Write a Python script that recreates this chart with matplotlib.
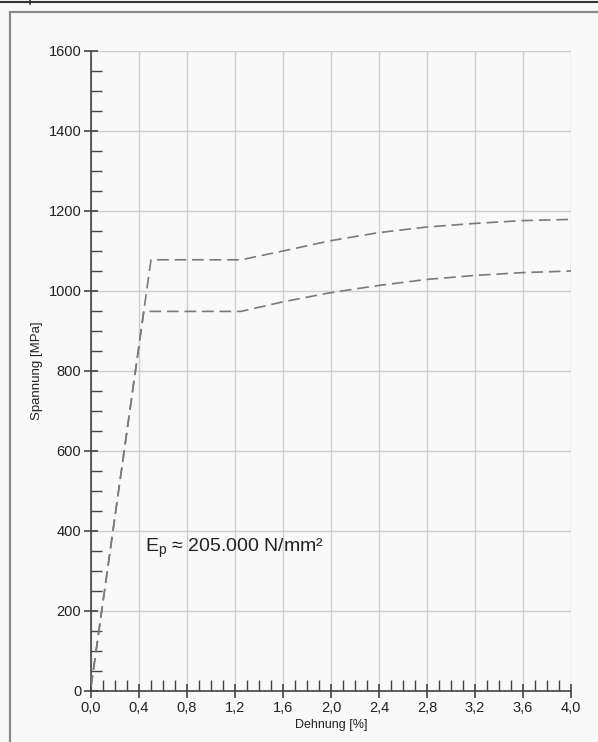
import numpy as np
import matplotlib
matplotlib.use("Agg")
import matplotlib.pyplot as plt
from matplotlib.patches import Rectangle
from matplotlib.lines import Line2D
from matplotlib.ticker import MultipleLocator, FuncFormatter

# ---------------------- Data ----------------------

# upper curve (strain in %, stress in MPa)
upper_strain = [0.0, 0.50, 1.25, 1.6, 2.0, 2.4, 2.8, 3.2, 3.6, 4.0]
upper_stress = [10, 1078, 1078, 1100, 1126, 1146, 1160, 1169, 1176, 1179]

# lower curve
lower_strain = [0.0, 0.44, 1.25, 1.6, 2.0, 2.4, 2.8, 3.2, 3.6, 4.0]
lower_stress = [10, 949, 949, 973, 996, 1014, 1029, 1039, 1046, 1050]

x_ticks = [0.0, 0.4, 0.8, 1.2, 1.6, 2.0, 2.4, 2.8, 3.2, 3.6, 4.0]
y_ticks = [0, 200, 400, 600, 800, 1000, 1200, 1400, 1600]

label_text = "E$_\\mathregular{p}$ ≈ 205.000 N/mm²"

# ---------------------- Plot ----------------------

plt.rcParams['font.family'] = ['Liberation Sans', 'DejaVu Sans']
plt.rcParams['mathtext.fontset'] = 'custom'
plt.rcParams['mathtext.rm'] = 'Liberation Sans'

W, H = 598, 742
fig = plt.figure(figsize=(W / 100, H / 100), dpi=100)
fig.patch.set_facecolor('#f9f9f9')

# bits of the surrounding page: table line on top and the frame
fig.add_artist(Line2D([0, 1], [1 - 1.5 / H, 1 - 1.5 / H], color='#333333', lw=1.5,
                      transform=fig.transFigure))
fig.add_artist(Line2D([30 / W, 30 / W], [1 - 4 / H, 1], color='#333333', lw=1.2,
                      transform=fig.transFigure))
fig.add_artist(Rectangle((9.5 / W, -0.05), 1.0, (H - 11.5) / H + 0.05, fill=False,
                         edgecolor='#8a8a8a', lw=1.6, transform=fig.transFigure))

ax = fig.add_axes([91 / W, 1 - 691 / H, 480 / W, 640 / H])
ax.set_facecolor('#f9f9f9')

for xs, ys in [(upper_strain, upper_stress), (lower_strain, lower_stress)]:
    ax.plot(xs, ys, color='#7a7a7a', lw=1.2, linestyle=(0, (7, 3.5)), zorder=3)

ax.set_xlim(0, 4.0)
ax.set_ylim(0, 1600)
ax.set_xticks(x_ticks)
ax.set_yticks(y_ticks)
ax.xaxis.set_minor_locator(MultipleLocator(0.1))
ax.yaxis.set_minor_locator(MultipleLocator(50))
ax.xaxis.set_major_formatter(FuncFormatter(lambda v, p: f"{v:.1f}".replace('.', ',')))

ax.grid(True, which='major', color='#cfcfcf', lw=1.0)
ax.set_axisbelow(True)
for s in ['top', 'right']:
    ax.spines[s].set_visible(False)
for s in ['left', 'bottom']:
    ax.spines[s].set_color('#444444')
    ax.spines[s].set_linewidth(1.2)

ax.tick_params(which='major', direction='inout', length=10, width=1.2, color='#444444',
               labelsize=10.5, pad=2, labelcolor='#222222')
ax.tick_params(which='minor', direction='in', length=8, width=1.0, color='#444444')

ax.set_xlabel("Dehnung [%]", fontsize=9, labelpad=3, color='#222222')
ax.set_ylabel("Spannung [MPa]", fontsize=9.5, color='#222222')
ax.yaxis.set_label_coords(-0.100, 0.5)

ax.text(0.45, 357, label_text, fontsize=14, va='center', ha='left', color='#222222')

fig.savefig("out.png", dpi=100, facecolor=fig.get_facecolor())
